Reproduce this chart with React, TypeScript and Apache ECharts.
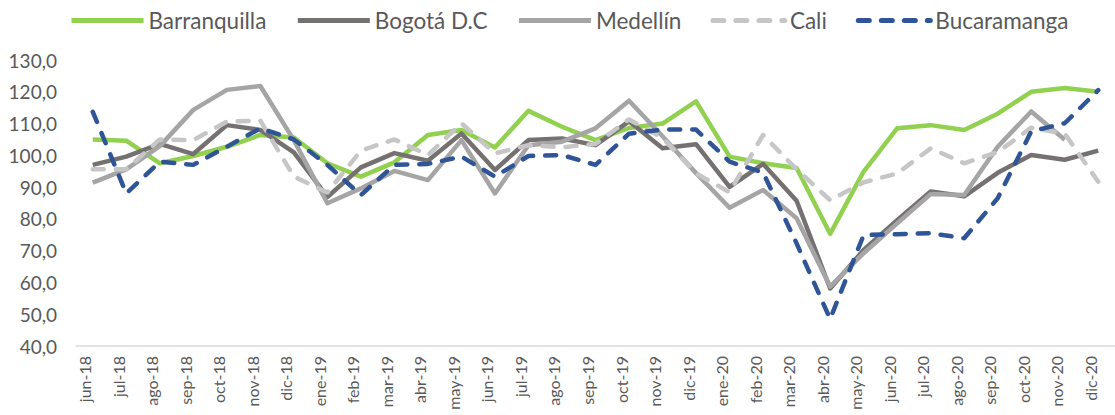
import React, { useEffect, useRef } from "react";
import * as echarts from "echarts";

const categories = [
  "jun-18", "jul-18", "ago-18", "sep-18", "oct-18", "nov-18", "dic-18",
  "ene-19", "feb-19", "mar-19", "abr-19", "may-19", "jun-19", "jul-19", "ago-19", "sep-19", "oct-19", "nov-19", "dic-19",
  "ene-20", "feb-20", "mar-20", "abr-20", "may-20", "jun-20", "jul-20", "ago-20", "sep-20", "oct-20", "nov-20", "dic-20",
];

const barranquilla = [105.0, 104.6, 97.5, 99.8, 102.7, 106.4, 105.6, 97.5, 93.3, 97.8, 106.4, 108.0, 102.5, 114.0, 109.0, 104.8, 108.6, 110.0, 117.0, 99.6, 97.5, 96.0, 75.3, 94.9, 108.5, 109.5, 108.0, 113.1, 120.0, 121.2, 120.0];
const bogota = [97.0, 99.6, 103.6, 100.4, 109.5, 108.0, 100.9, 86.9, 96.2, 100.7, 98.3, 106.9, 95.4, 104.8, 105.3, 103.2, 110.7, 102.2, 103.5, 90.1, 97.3, 85.7, 58.1, 70.2, 79.6, 88.6, 87.1, 94.5, 100.1, 98.6, 101.5];
const medellin = [91.4, 95.6, 102.9, 114.3, 120.6, 121.8, 104.8, 84.9, 89.6, 95.1, 92.2, 104.8, 88.0, 103.2, 104.3, 108.5, 117.2, 106.0, 94.4, 83.5, 89.1, 80.2, 58.7, 69.2, 78.6, 87.8, 87.5, 102.7, 113.8, 104.9, null];
const cali = [95.6, 95.6, 105.0, 104.8, 110.6, 110.9, 93.3, 88.3, 101.5, 105.0, 100.1, 110.1, 100.6, 103.2, 102.5, 103.6, 111.3, 105.5, 94.3, 88.4, 106.4, 95.6, 85.9, 91.5, 94.3, 102.2, 97.5, 101.0, 108.7, 106.8, 91.7];
const bucaramanga = [113.7, 88.0, 98.0, 97.0, 102.7, 108.5, 105.0, 97.0, 87.5, 97.0, 97.3, 99.6, 93.3, 99.8, 100.1, 97.0, 106.8, 108.1, 108.1, 98.0, 94.6, 72.3, 48.5, 74.9, 75.2, 75.5, 73.9, 86.5, 107.5, 110.1, 120.5];

const seriesNames = ["Barranquilla", "Bogotá D.C", "Medellín", "Cali", "Bucaramanga"];
const seriesData = [barranquilla, bogota, medellin, cali, bucaramanga];
const seriesColors = ["#92D050", "#767171", "#A5A5A5", "#C6C6C6", "#2F5597"];
const seriesDashed = [false, false, false, true, true];

const FONT = "Lato, 'Open Sans', sans-serif";
const TEXT = "#595959";

export default function App() {
  const ref = useRef<HTMLDivElement>(null);
  useEffect(() => {
    if (!ref.current) return;
    const chart = echarts.init(ref.current, undefined, { renderer: "svg" });
    chart.setOption({
      animation: false,
      backgroundColor: "#ffffff",
      textStyle: { fontFamily: FONT },
      legend: {
        left: 64,
        top: 4,
        itemWidth: 72,
        itemHeight: 14,
        itemGap: 29,
        itemStyle: { opacity: 0 },
        lineStyle: { width: 5 },
        textStyle: { fontSize: 22.5, color: TEXT, fontFamily: FONT },
        data: seriesNames,
      },
      grid: { left: 76, right: -5, top: 60, bottom: 69, containLabel: false },
      xAxis: {
        type: "category",
        data: categories,
        boundaryGap: true,
        axisLine: { show: true, lineStyle: { color: "#D9D9D9", width: 1.5 } },
        axisTick: { show: false },
        axisLabel: {
          rotate: 90,
          interval: 0,
          margin: 10,
          fontSize: 16,
          color: TEXT,
          fontFamily: FONT,
          verticalAlign: "bottom",
        },
      },
      yAxis: {
        type: "value",
        min: 40,
        max: 130,
        interval: 10,
        axisLine: { show: false },
        axisTick: { show: false },
        splitLine: { show: false },
        axisLabel: {
          margin: 19,
          fontSize: 19,
          color: TEXT,
          fontFamily: FONT,
          formatter: (v: number) => v.toFixed(1).replace(".", ","),
        },
      },
      series: seriesNames.map((name, i) => ({
        name,
        type: "line",
        data: seriesData[i],
        symbol: "none",
        connectNulls: false,
        color: seriesColors[i],
        lineStyle: {
          color: seriesColors[i],
          width: 4.5,
          type: seriesDashed[i] ? [11, 12] : "solid",
          cap: seriesDashed[i] ? "round" : "butt",
          join: "round",
        },
      })),
    });
    return () => chart.dispose();
  }, []);
  return (
    <div
      ref={ref}
      style={{ position: "fixed", left: 0, top: 0, width: 1115, height: 415 }}
    />
  );
}
